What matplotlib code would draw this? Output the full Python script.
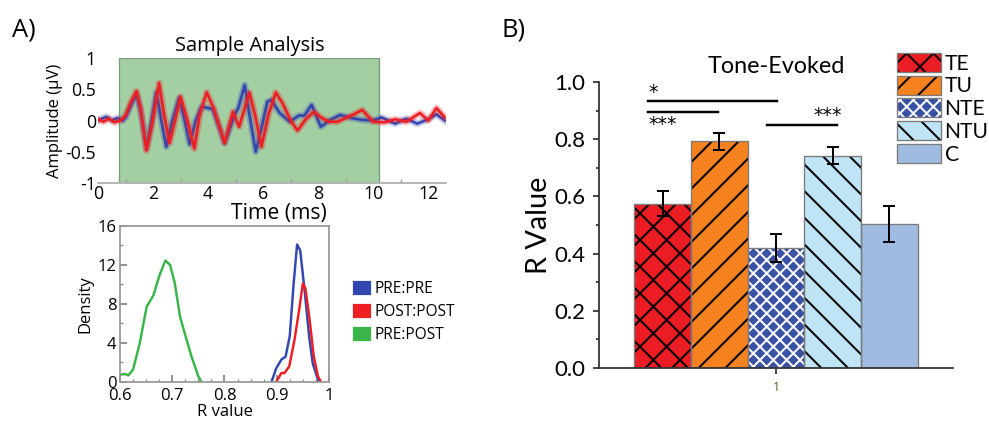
import matplotlib.pyplot as plt
from matplotlib.patches import Patch, Rectangle
from matplotlib.legend_handler import HandlerTuple
from matplotlib.ticker import MultipleLocator

plt.rcParams['font.family'] = ['Open Sans', 'DejaVu Sans']
plt.rcParams['hatch.linewidth'] = 0.9

# ---- A) sample waveforms (ms, uV)
t_pre = [0.0, 0.3, 0.5, 0.7, 0.9, 1.0, 1.2, 1.4, 1.55, 1.76, 1.95, 2.12, 2.3, 2.48,
         2.7, 2.95, 3.15, 3.33, 3.55, 3.76, 4.0, 4.18, 4.6, 4.97, 5.1, 5.33, 5.5,
         5.73, 5.95, 6.15, 6.3, 6.6, 6.97, 7.3, 7.5, 7.76, 8.1, 8.4, 8.8, 9.2, 9.6,
         10.0, 10.3, 10.8, 11.2, 11.6, 12.0, 12.3, 12.6]
amp_pre = [0.0, 0.06, 0.0, 0.04, 0.0, 0.05, 0.25, 0.42, 0.15, -0.44, 0.0, 0.45, 0.0,
           -0.42, 0.0, 0.36, 0.0, -0.38, 0.0, 0.22, 0.2, 0.18, -0.36, 0.1, 0.2, 0.57,
           0.1, -0.5, -0.1, 0.3, 0.33, 0.12, -0.02, 0.08, 0.08, 0.25, -0.1, 0.0, 0.09,
           0.04, 0.01, 0.0, 0.05, -0.05, 0.03, -0.05, 0.02, 0.1, 0.0]
t_post = [0.0, 0.2, 0.4, 0.6, 0.8, 1.0, 1.2, 1.4, 1.55, 1.76, 1.95, 2.22, 2.4, 2.6,
          2.8, 3.0, 3.25, 3.5, 3.7, 3.95, 4.2, 4.6, 4.9, 5.13, 5.5, 5.7, 5.94, 6.2,
          6.46, 6.7, 7.0, 7.25, 7.55, 7.85, 8.1, 8.4, 8.7, 9.0, 9.3, 9.6, 10.0,
          10.4, 10.8, 11.2, 11.7, 12.0, 12.3, 12.6]
amp_post = [0.02, -0.02, 0.03, -0.03, 0.0, 0.08, 0.3, 0.47, 0.2, -0.48, -0.1, 0.6,
            0.1, -0.36, 0.0, 0.38, 0.0, -0.45, 0.1, 0.45, 0.2, -0.36, 0.14, -0.1,
            0.45, 0.1, -0.42, 0.1, 0.45, 0.28, 0.0, -0.16, 0.02, 0.14, 0.05, -0.02,
            -0.02, 0.04, 0.1, 0.17, -0.02, -0.03, 0.02, -0.02, 0.12, 0.0, 0.2, 0.05]
stim_on, stim_off = 0.76, 10.2

# ---- A) density of R values
r_prepre = [0.89, 0.899, 0.909, 0.917, 0.925, 0.932, 0.939, 0.945, 0.954, 0.962,
            0.969, 0.979, 0.982]
d_prepre = [0.0, 1.4, 2.3, 2.6, 4.7, 9.8, 14.1, 13.5, 9.1, 4.7, 1.9, 0.24, 0.0]
r_postpost = [0.899, 0.909, 0.915, 0.924, 0.934, 0.943, 0.95, 0.955, 0.963, 0.971,
              0.979, 0.985]
d_postpost = [0.0, 0.92, 0.92, 1.6, 4.3, 7.4, 10.1, 9.6, 6.4, 2.6, 0.58, 0.0]
r_prepost = [0.6, 0.61, 0.616, 0.625, 0.638, 0.651, 0.664, 0.676, 0.687, 0.696,
             0.705, 0.715, 0.724, 0.737, 0.75, 0.756]
d_prepost = [0.75, 0.82, 0.68, 1.26, 4.0, 7.7, 8.9, 11.0, 12.45, 12.0, 10.1, 6.7,
             5.0, 2.6, 0.58, 0.0]

# ---- B) tone-evoked R values
groups = ['TE', 'TU', 'NTE', 'NTU', 'C']
r_mean = [0.575, 0.793, 0.42, 0.742, 0.503]
r_err = [0.043, 0.03, 0.05, 0.03, 0.063]
sig_lines = [(0.638, 1.003, 0.932), (0.638, 0.836, 0.894), (0.975, 1.172, 0.848)]
sig_text = [(0.64, 0.962, '*'), (0.64, 0.853, '***'), (1.105, 0.884, '***')]

c_pre, c_post, c_cross = '#3347b0', '#ee1f23', '#39b54a'
bar_colors = ['#ec1c24', '#f5821f', '#3a52a3', '#bfe4f6', '#a0bbe1']
hatch_colors = ['black', 'black', 'white', 'black', 'none']
hatches = ['xx', '//', 'xxxx', '\\\\', '']

fig = plt.figure(figsize=(989 / 160, 426 / 160), dpi=160)

#%% top waveform panel
ax1 = fig.add_axes([0.0991, 0.5704, 0.352, 0.2934])
ax1.add_patch(Rectangle((stim_on, -1), stim_off - stim_on, 2, facecolor='#a3cfa3',
                        edgecolor='#7d9c7d', lw=0.6, zorder=0))
for t, a, c in [(t_pre, amp_pre, c_pre), (t_post, amp_post, c_post)]:
    ax1.plot(t, a, color=c, lw=3.0, alpha=0.3, solid_joinstyle='round')
    ax1.plot(t, a, color=c, lw=1.2, solid_joinstyle='round')
ax1.set_xlim(0, 12.65)
ax1.set_ylim(-1, 1)
ax1.set_axisbelow(True)
for s in ['top', 'right', 'left']:
    ax1.spines[s].set_visible(False)
ax1.spines['bottom'].set_color('#b0b0b0')
ax1.set_xticks(range(0, 13, 2))
ax1.xaxis.set_minor_locator(MultipleLocator(1))
ax1.set_yticks([-1, -0.5, 0, 0.5, 1])
ax1.set_yticklabels(['-1', '-0.5', '0', '0.5', '1'])
ax1.tick_params(axis='x', which='major', length=0, labelsize=8, pad=1)
ax1.tick_params(axis='x', which='minor', direction='in', length=2, color='#999999')
ax1.tick_params(axis='y', length=0, labelsize=8, pad=1)
ax1.set_xlabel('Time (ms)', fontsize=9.5, labelpad=0, x=0.52)
ax1.set_ylabel('Amplitude (µV)', fontsize=7.5, labelpad=1)
ax1.set_title('Sample Analysis', fontsize=9, x=0.437, pad=3)

#%% density panel
ax2 = fig.add_axes([0.1213, 0.1033, 0.2113, 0.3662])
ax2.plot(r_prepost, d_prepost, color=c_cross, lw=1.1)
ax2.plot(r_prepre, d_prepre, color=c_pre, lw=1.1)
ax2.plot(r_postpost, d_postpost, color=c_post, lw=1.1)
ax2.set_xlim(0.6, 1.0)
ax2.set_ylim(0, 16)
ax2.set_xticks([0.6, 0.7, 0.8, 0.9, 1.0])
ax2.set_xticklabels(['0.6', '0.7', '0.8', '0.9', '1'])
ax2.set_yticks([0, 4, 8, 12, 16])
ax2.xaxis.set_minor_locator(MultipleLocator(0.025))
ax2.yaxis.set_minor_locator(MultipleLocator(2))
ax2.tick_params(which='both', direction='in', color='#888888', labelsize=7.5)
ax2.tick_params(axis='x', pad=2.5)
ax2.tick_params(axis='y', pad=1.5)
ax2.tick_params(which='major', length=3)
ax2.tick_params(which='minor', length=1.5)
for s in ax2.spines.values():
    s.set_color('#999999')
ax2.set_xlabel('R value', fontsize=7.5, labelpad=0)
ax2.set_ylabel('Density', fontsize=7.5, labelpad=2)

dens_handles = [Patch(color=c_pre), Patch(color=c_post), Patch(color=c_cross)]
fig.legend(dens_handles, ['PRE:PRE', 'POST:POST', 'PRE:POST'], loc='upper left',
           bbox_to_anchor=(0.358, 0.34), frameon=False, fontsize=7,
           handlelength=1.05, handleheight=0.85, handletextpad=0.25,
           labelspacing=0.45, borderpad=0, borderaxespad=0)

#%% bar panel
ax3 = fig.add_axes([0.6057, 0.1362, 0.358, 0.6714])
w = 0.16
xs = [1 + (i - 2) * w for i in range(len(groups))]
for x, m, fc, hc, h in zip(xs, r_mean, bar_colors, hatch_colors, hatches):
    ax3.bar(x, m, width=w, color=fc, edgecolor=hc, hatch=h, lw=0)
ax3.bar(xs, r_mean, width=w, fill=False, edgecolor='#7a7a7a', lw=0.6)
ax3.errorbar(xs, r_mean, yerr=r_err, fmt='none', ecolor='black', elinewidth=0.9,
             capsize=2.5, capthick=0.9)
for x0, x1, y in sig_lines:
    ax3.plot([x0, x1], [y, y], color='black', lw=1.1)
for x, y, s in sig_text:
    ax3.text(x, y, s, fontsize=8.5, ha='left', va='center', family='DejaVu Sans')
ax3.set_xlim(0.5, 1.5)
ax3.set_ylim(0, 1.0)
ax3.set_xticks([1])
ax3.set_xticklabels(['1'], fontsize=5.5, color='#6b5a1c')
ax3.set_yticks([0, 0.2, 0.4, 0.6, 0.8, 1.0])
ax3.set_yticklabels(['0.0', '0.2', '0.4', '0.6', '0.8', '1.0'], fontsize=10, family='Lato')
ax3.yaxis.set_minor_locator(MultipleLocator(0.1))
ax3.tick_params(which='major', length=2.8, width=0.8, color='#333333')
ax3.tick_params(which='minor', length=1.5, width=0.8, color='#333333')
ax3.tick_params(axis='x', pad=3)
for s in ['top', 'right']:
    ax3.spines[s].set_visible(False)
for s in ['left', 'bottom']:
    ax3.spines[s].set_color('#333333')
    ax3.spines[s].set_linewidth(0.8)
ax3.set_ylabel('R Value', fontsize=13, family='Lato', labelpad=1)
ax3.set_title('Tone-Evoked', fontsize=10.5, family='Lato', pad=4)

bar_handles = [(Patch(facecolor=fc, edgecolor=hc, hatch=h, lw=0),
                Patch(fill=False, edgecolor='#7a7a7a', lw=0.6))
               for fc, hc, h in zip(bar_colors, hatch_colors, hatches)]
fig.legend(bar_handles, groups, handler_map={tuple: HandlerTuple(ndivide=1)},
           loc='upper left', bbox_to_anchor=(0.907, 0.876), frameon=False,
           prop={'family': 'Lato', 'size': 9.5}, handlelength=2.1,
           handleheight=1.0, handletextpad=0.15, labelspacing=0.1,
           borderpad=0, borderaxespad=0)

fig.text(0.012, 0.93, 'A)', fontsize=11.5, va='center')
fig.text(0.507, 0.93, 'B)', fontsize=11.5, va='center')

fig.savefig('out.png', dpi=160)
